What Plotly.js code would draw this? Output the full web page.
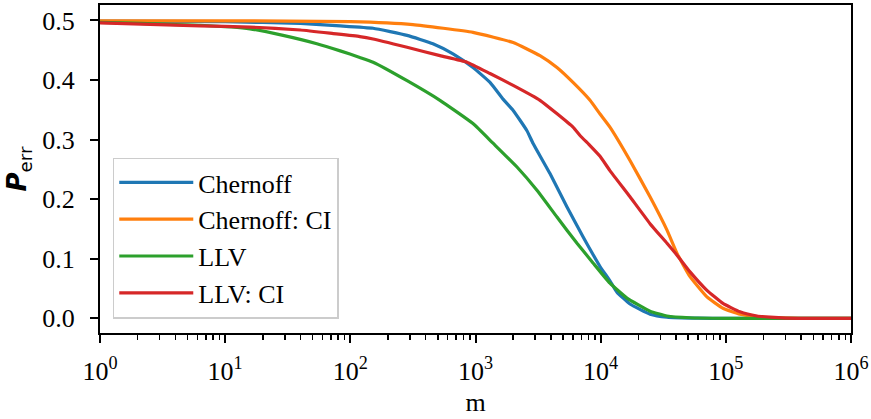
<!DOCTYPE html>
<html>
<head>
<meta charset="utf-8">
<script src="https://cdn.plot.ly/plotly-3.0.1.min.js"></script>
<style>html,body{margin:0;padding:0;background:#fff;}</style>
</head>
<body>
<div id="chart" style="width:871px;height:419px;"></div>
<script>
// Series names
const seriesNames = ["Chernoff", "Chernoff: CI", "LLV", "LLV: CI"];

// Chernoff
const mChernoff = [1, 10, 40, 83, 152, 284, 457, 661, 955, 1306, 1660, 2000, 2577, 2878, 3936, 5383, 7228, 8222, 9886, 11860, 13490, 17150, 24790, 33880, 60000, 100000, 1000000];
const pChernoff = [0.499, 0.498, 0.495, 0.491, 0.487, 0.475, 0.461, 0.444, 0.421, 0.396, 0.368, 0.349, 0.315, 0.294, 0.243, 0.187, 0.137, 0.116, 0.087, 0.063, 0.044, 0.024, 0.007, 0.002, 0.0003, 0, 0];

// Chernoff: CI
const mChernoffCI = [1, 10, 100, 316, 955, 2000, 3275, 4477, 6012, 8222, 9886, 11860, 17150, 24790, 33880, 40740, 51760, 70630, 94840, 129700, 177400, 250000, 400000, 1000000];
const pChernoffCI = [0.4995, 0.4995, 0.498, 0.493, 0.480, 0.463, 0.441, 0.421, 0.396, 0.366, 0.343, 0.321, 0.265, 0.204, 0.148, 0.109, 0.070, 0.036, 0.017, 0.007, 0.003, 0.001, 0, 0];

// LLV
const mLLV = [1, 6.3, 15.8, 29, 54, 83, 119, 152, 284, 520, 955, 1380, 2145, 3097, 4477, 6471, 8690, 11860, 16220, 24790, 33880, 51760, 100000, 1000000];
const pLLV = [0.497, 0.492, 0.486, 0.475, 0.461, 0.449, 0.438, 0.430, 0.399, 0.366, 0.327, 0.294, 0.254, 0.215, 0.170, 0.126, 0.093, 0.059, 0.034, 0.012, 0.004, 0.001, 0.0001, 0];

// LLV: CI
const mLLVCI = [1, 6.3, 15.8, 40, 73, 119, 152, 284, 520, 855, 1306, 2000, 3275, 6012, 6839, 8222, 9886, 11860, 17150, 24790, 33880, 40740, 51760, 70630, 94840, 129700, 177400, 225400, 300000, 1000000];
const pLLVCI = [0.496, 0.491, 0.489, 0.484, 0.478, 0.473, 0.469, 0.455, 0.441, 0.430, 0.411, 0.391, 0.366, 0.321, 0.307, 0.290, 0.272, 0.248, 0.204, 0.159, 0.126, 0.106, 0.078, 0.047, 0.025, 0.011, 0.004, 0.002, 0.0005, 0];

// Tick labels
const xTickVals = [1, 10, 100, 1000, 10000, 100000, 1000000];
const xTickText = ["10<sup>0</sup>", "10<sup>1</sup>", "10<sup>2</sup>", "10<sup>3</sup>", "10<sup>4</sup>", "10<sup>5</sup>", "10<sup>6</sup>"];
const yTickVals = [0.0, 0.1, 0.2, 0.3, 0.4, 0.5];
const yTickText = ["0.0", "0.1", "0.2", "0.3", "0.4", "0.5"];

const colors = ["#1f77b4", "#ff7f0e", "#2ca02c", "#d62728"];
const xs = [mChernoff, mChernoffCI, mLLV, mLLVCI];
const ys = [pChernoff, pChernoffCI, pLLV, pLLVCI];

const traces = seriesNames.map((name, i) => ({
  x: xs[i], y: ys[i], name: name, type: "scatter", mode: "lines",
  legendgroup: "g" + i,
  line: {color: colors[i], width: 3.2, shape: "spline", smoothing: 0.4}
}));

const serif = "Liberation Serif";

const layout = {
  width: 871, height: 419,
  margin: {l: 100, r: 20, t: 5, b: 86},
  paper_bgcolor: "#ffffff", plot_bgcolor: "#ffffff",
  font: {family: serif, size: 26, color: "#000"},
  showlegend: true,
  legend: {
    x: 0.017, y: 0.535, xanchor: "left", yanchor: "top",
    bgcolor: "rgba(255,255,255,0.8)", bordercolor: "#cccccc", borderwidth: 1.5,
    font: {family: serif, size: 26, color: "#000"},
    tracegroupgap: 0, itemwidth: 74
  },
  xaxis: {
    type: "log", range: [0, 6],
    tickmode: "array", tickvals: xTickVals, ticktext: xTickText,
    ticks: "outside", ticklen: 8, tickwidth: 2, tickcolor: "#000",
    minor: {ticks: "outside", ticklen: 4.5, tickwidth: 1.5, tickcolor: "#000", dtick: "D1"},
    showline: true, linecolor: "#000", linewidth: 2, mirror: true,
    showgrid: false, zeroline: false,
    ticklabelstandoff: 6,
    tickfont: {family: serif, size: 26, color: "#000"},
    title: {text: "m", font: {family: serif, size: 26, color: "#000"}, standoff: 8}
  },
  yaxis: {
    range: [-0.0246, 0.526],
    tickmode: "array", tickvals: yTickVals, ticktext: yTickText,
    ticks: "outside", ticklen: 8, tickwidth: 2, tickcolor: "#000",
    showline: true, linecolor: "#000", linewidth: 2, mirror: true,
    showgrid: false, zeroline: false,
    ticklabelstandoff: 10,
    tickfont: {family: serif, size: 26, color: "#000"},
    title: {text: "<b><i>P</i></b><sub>err</sub>", font: {family: "DejaVu Sans", size: 26, color: "#000"}, standoff: 8}
  }
};

Plotly.newPlot("chart", traces, layout, {displayModeBar: false, staticPlot: true});
</script>
</body>
</html>
